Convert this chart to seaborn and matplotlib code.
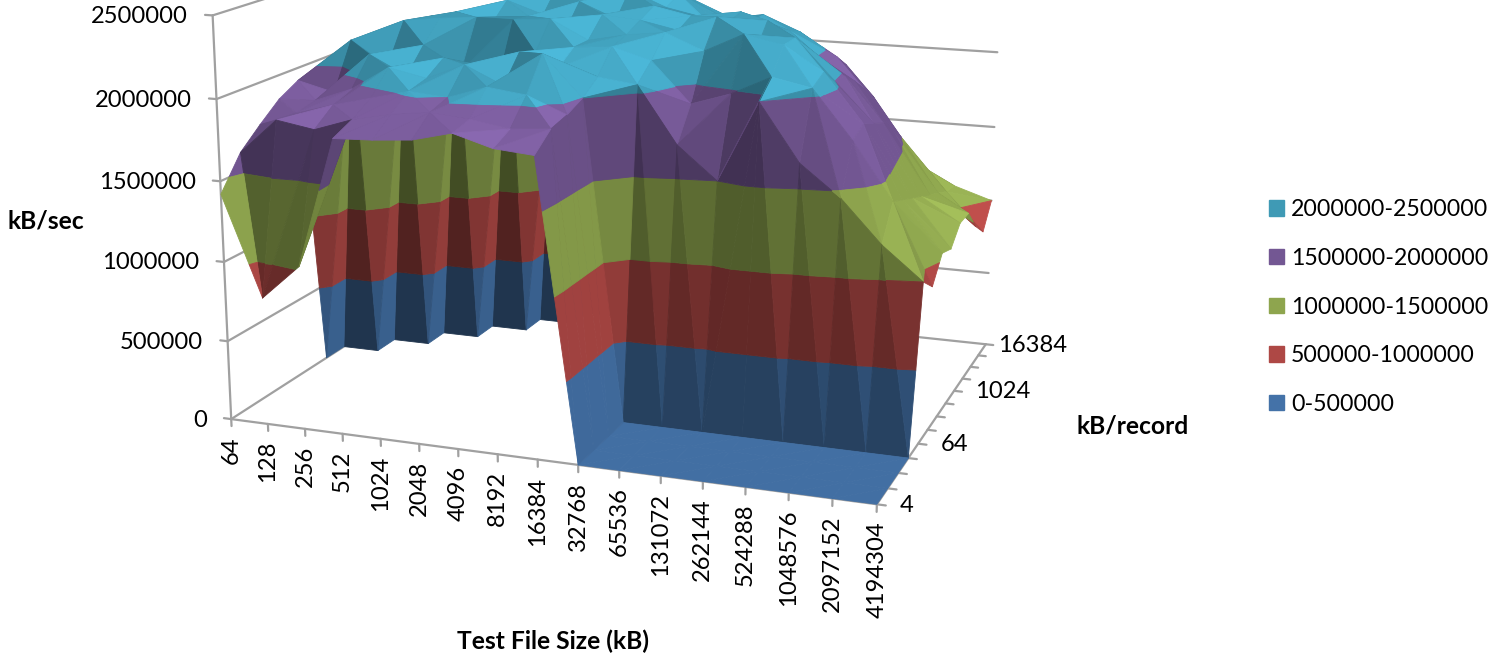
import numpy as np
import seaborn as sns
import matplotlib
matplotlib.use('Agg')
import matplotlib.pyplot as plt
from matplotlib.patches import Patch
from mpl_toolkits.mplot3d import proj3d
from mpl_toolkits.mplot3d.art3d import Poly3DCollection

nan = np.nan
file_sizes = [64, 128, 256, 512, 1024, 2048, 4096, 8192, 16384, 32768, 65536, 131072, 262144, 524288, 1048576, 2097152, 4194304]
record_sizes = [4, 8, 16, 32, 64, 128, 256, 512, 1024, 2048, 4096, 8192, 16384]
rate_ticks = [0, 500000, 1000000, 1500000, 2000000, 2500000]
band_labels = ['0-500000', '500000-1000000', '1000000-1500000', '1500000-2000000', '2000000-2500000']
band_colors = ['#4472a8', '#ae4845', '#8ea54e', '#735793', '#3f9ab5']

# thousands of kB/sec, one row per record size
rec_4 = [1420, 800, 1020, 1820, 1830, 1850, 1910, 1840, 1820, 0, 0, 0, 0, 0, 0, 0, 0]
rec_8 = [1620, 1840, 1800, 1880, 1930, 1960, 1940, 1900, 1920, 0, 0, 0, 0, 0, 0, 0, 0]
rec_16 = [1740, 1830, 1900, 1960, 2020, 2000, 2080, 2050, 1950, 0, 0, 0, 0, 0, 0, 0, 0]
rec_32 = [1850, 1860, 1950, 2100, 2050, 2150, 2040, 2250, 2000, 0, 0, 0, 0, 0, 0, 0, 0]
rec_64 = [1920, 1860, 2120, 2000, 2130, 2100, 2200, 2120, 2080, 2050, 1700, 1500, 2000, 1650, 1460, 1200, 1000]
rec_128 = [0, 2150, 2000, 2150, 2000, 1950, 2150, 2200, 2220, 2150, 1900, 1980, 2100, 2050, 1750, 1400, 900]
rec_256 = [0, 0, 2250, 2280, 2300, 2300, 2320, 2200, 2250, 2280, 2180, 2300, 2250, 2100, 1800, 1350, 1040]
rec_512 = [nan, 0, 0, 2280, 2220, 2280, 2200, 2320, 2300, 2250, 2350, 2150, 2250, 2000, 1750, 1300, 1000]
rec_1024 = [nan, nan, 0, 0, 2330, 2250, 2350, 2250, 2350, 2300, 2280, 2300, 2050, 1980, 1700, 1250, 1100]
rec_2048 = [nan, nan, nan, 0, 0, 2400, 2300, 2400, 2300, 2250, 2300, 2200, 2050, 1900, 1600, 1200, 1100]
rec_4096 = [nan, nan, nan, nan, 0, 0, 2350, 2300, 2350, 2200, 2200, 2150, 1950, 1800, 1500, 1150, 950]
rec_8192 = [nan, nan, nan, nan, nan, 0, 0, 2300, 2280, 2150, 2200, 2100, 1950, 1700, 1300, 1100, 850]
rec_16384 = [nan, nan, nan, nan, nan, nan, 0, 0, 2180, 2100, 2100, 1950, 1850, 1500, 1050, 1080, 1000]

rates = np.array([rec_4, rec_8, rec_16, rec_32, rec_64, rec_128, rec_256, rec_512, rec_1024,
                  rec_2048, rec_4096, rec_8192, rec_16384], dtype=float) * 1000

sns.set_theme(style='white')
plt.rcParams['font.family'] = ['Lato', 'DejaVu Sans']
plt.rcParams['text.color'] = 'black'

fig = plt.figure(figsize=(14.89, 6.63), dpi=100)
ax = fig.add_axes([0.12081, 0.03756, 0.58414, 1.3119], projection='3d')
ax.set_axis_off()
ax.computed_zorder = False
nx, ny = len(file_sizes), len(record_sizes)
ax.set_xlim(0, nx - 1)
ax.set_ylim(0, ny - 1)
ax.set_zlim(0, 2500000)
ax.view_init(elev=14.2153, azim=-69.9686, roll=0.0548)
ax.set_proj_type('persp', focal_length=0.4849)
ax.set_box_aspect((1, 0.7485, 0.6175), zoom=1)
M = ax.get_proj()

grid_color = '#a0a0a0'
record_gap = {0: 23, 4: 23, 8: 21, 12: 12}


def tick_label(x, y, z, text, dx, dy, **kw):
    # text placed a few points away from its projected axis position
    px, py, _ = proj3d.proj_transform(x, y, z, M)
    ax.annotate(text, xy=(px, py), xytext=(dx * 0.72, dy * 0.72), textcoords='offset points',
                fontsize=17.1, annotation_clip=False, zorder=5, **kw)


for z in rate_ticks:
    ax.plot([0, 0], [0, ny - 1], [z, z], color=grid_color, lw=1.6, zorder=1)
    ax.plot([0, nx - 1], [ny - 1, ny - 1], [z, z], color=grid_color, lw=1.6, zorder=1)
    ax.plot([-0.2, 0], [0, 0], [z, z], color=grid_color, lw=1.6, zorder=1)
    tick_label(0, 0, z, f'{z}', -24.5, -1, ha='right', va='center')
ax.plot([0, 0], [0, 0], [0, 2500000], color=grid_color, lw=1.6, zorder=1)
ax.plot([0, nx - 1], [0, 0], [0, 0], color=grid_color, lw=1.6, zorder=1)
ax.plot([nx - 1, nx - 1], [0, ny - 1], [0, 0], color=grid_color, lw=1.6, zorder=1)
for i, f in enumerate(file_sizes):
    ax.plot([i, i], [0, 0], [0, -45000], color=grid_color, lw=1.6, zorder=1)
    tick_label(i, 0, 0, f'{f}', 0, -17, rotation=90, ha='center', va='top')
for j, rs in enumerate(record_sizes):
    ax.plot([nx - 1, nx - 0.8], [j, j], [0, 0], color=grid_color, lw=1.6, zorder=1)
    if j % 4 == 0:
        tick_label(nx - 1, j, 0, f'{rs}', record_gap[j], -1, ha='left', va='center')


def clip_band(tri, lo, hi):
    def clip(poly, keep, limit):
        out = []
        for a, b in zip(poly, poly[1:] + poly[:1]):
            ka, kb = keep(a[2]), keep(b[2])
            if ka:
                out.append(a)
            if ka != kb:
                t = (limit - a[2]) / (b[2] - a[2])
                out.append(tuple(a[m] + t * (b[m] - a[m]) for m in range(3)))
        return out
    poly = clip(list(tri), lambda z: z >= lo, lo)
    if poly:
        poly = clip(poly, lambda z: z <= hi, hi)
    return poly


def shade(tri):
    a, b, c = [np.array([q[0], q[1], q[2] / 250000]) for q in tri]
    n = np.cross(b - a, c - a)
    n = n / np.linalg.norm(n)
    if n[2] < 0:
        n = -n
    side = 0.33 if n[0] > 0 else 0.3
    v = 0.56 + 0.41 * n[2] ** 2 + side * abs(n[0]) ** 0.7 + 0.2 * n[0] * n[2] - 0.55 * n[1] * n[2] ** 4
    if n[1] > 0:
        v -= 0.1 * n[1] ** 2
    if n[0] * n[1] > 0:
        v -= 0.45 * n[0] * n[1]
    return float(np.clip(v, 0.42, 1.3))


verts, colors = [], []
base = [np.array(c) for c in sns.color_palette(band_colors)]
for j in range(ny - 1):
    for i in range(nx - 1):
        z00, z10, z01, z11 = rates[j, i], rates[j, i + 1], rates[j + 1, i], rates[j + 1, i + 1]
        if np.isnan([z00, z10, z01, z11]).any():
            continue
        p00, p10, p01, p11 = (i, j, z00), (i + 1, j, z10), (i, j + 1, z01), (i + 1, j + 1, z11)
        # ridge along the higher diagonal, steep spikes where the cell has no empty corner
        if min(z00, z10, z01, z11) > 0 and max(abs(z00 - z11), abs(z10 - z01)) > 500000:
            use_main = abs(z00 - z11) >= abs(z10 - z01)
        else:
            use_main = z00 + z11 >= z10 + z01
        if use_main:
            tris = [(p00, p10, p11), (p00, p11, p01)]
        else:
            tris = [(p00, p10, p01), (p10, p11, p01)]
        for tri in tris:
            v = shade(tri)
            for b in range(5):
                poly = clip_band(tri, b * 500000, (b + 1) * 500000)
                if len(poly) >= 3:
                    col = np.clip(base[b] * v, 0, 1)
                    verts.append(poly)
                    colors.append(col)

surf = Poly3DCollection(verts, facecolors=colors, edgecolors=colors, linewidths=0.6, zorder=2)
ax.add_collection3d(surf)

fig.text(46 / 1489, 1 - 221 / 663, 'kB/sec', fontsize=17.7, fontweight='bold', ha='center', va='center')
fig.text(553 / 1489, 1 - 641 / 663, 'Test File Size (kB)', fontsize=17.7, fontweight='bold', ha='center', va='center')
fig.text(1133 / 1489, 1 - 426 / 663, 'kB/record', fontsize=17.7, fontweight='bold', ha='center', va='center')

handles = [Patch(color=c) for c in band_colors[::-1]]
fig.legend(handles, band_labels[::-1], loc='center left', bbox_to_anchor=(1269 / 1489, 1 - 307 / 663), frameon=False,
           fontsize=16.7, handlelength=0.65, handleheight=0.65, handletextpad=0.3, labelspacing=1.19, borderpad=0, borderaxespad=0)

fig.savefig('out.png', dpi=100)
